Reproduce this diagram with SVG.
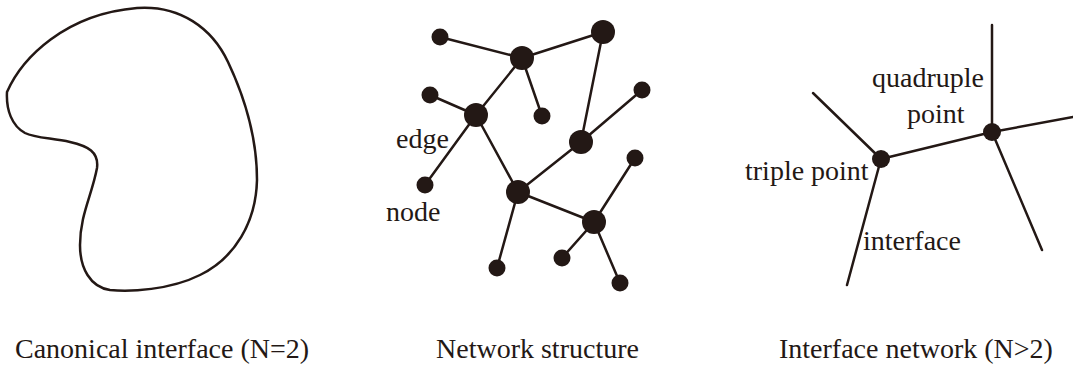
<svg xmlns="http://www.w3.org/2000/svg" width="1073" height="367" viewBox="0 0 1073 367">
<style>
.ln{stroke:#231815;stroke-width:2.5;fill:none;stroke-linecap:round}
.dot{fill:#231815}
text{font-family:"Liberation Serif","Times New Roman",serif;font-size:28px;fill:#231815}
</style>
<rect width="1073" height="367" fill="#fff"/>
<g id="blob">
<path class="ln" d="M7,92 C22,58 65,14 137,8 C180,5 212,28 228,62 C245,98 257,140 257,180 C256,222 235,258 200,275 C170,290 130,292 110,290 C90,287 80,268 80,245 C80,215 92,195 97,168 C99,152 88,146 70,142 C52,138 35,138 25,133 C12,126 6,110 7,92 Z"/>
</g>
<g id="network-edges">
<line class="ln" x1="440" y1="37" x2="522" y2="58"/>
<line class="ln" x1="522" y1="58" x2="603" y2="32"/>
<line class="ln" x1="522" y1="58" x2="476" y2="115"/>
<line class="ln" x1="522" y1="58" x2="542" y2="116"/>
<line class="ln" x1="430" y1="95" x2="476" y2="115"/>
<line class="ln" x1="476" y1="115" x2="425" y2="185"/>
<line class="ln" x1="476" y1="115" x2="518" y2="192"/>
<line class="ln" x1="603" y1="32" x2="581" y2="142"/>
<line class="ln" x1="581" y1="142" x2="642" y2="90"/>
<line class="ln" x1="581" y1="142" x2="518" y2="192"/>
<line class="ln" x1="518" y1="192" x2="594" y2="222"/>
<line class="ln" x1="518" y1="192" x2="497" y2="268"/>
<line class="ln" x1="594" y1="222" x2="635" y2="158"/>
<line class="ln" x1="594" y1="222" x2="562" y2="258"/>
<line class="ln" x1="594" y1="222" x2="620" y2="283"/>
</g>
<g id="network-nodes">
<circle class="dot" cx="440" cy="37" r="8.5"/>
<circle class="dot" cx="522" cy="58" r="12"/>
<circle class="dot" cx="603" cy="32" r="12"/>
<circle class="dot" cx="430" cy="95" r="8.5"/>
<circle class="dot" cx="476" cy="115" r="12"/>
<circle class="dot" cx="542" cy="116" r="8.5"/>
<circle class="dot" cx="642" cy="90" r="8.5"/>
<circle class="dot" cx="581" cy="142" r="12"/>
<circle class="dot" cx="425" cy="185" r="8.5"/>
<circle class="dot" cx="518" cy="192" r="12"/>
<circle class="dot" cx="635" cy="158" r="8.5"/>
<circle class="dot" cx="594" cy="222" r="12"/>
<circle class="dot" cx="562" cy="258" r="8.5"/>
<circle class="dot" cx="497" cy="268" r="8.5"/>
<circle class="dot" cx="620" cy="283" r="8.5"/>
</g>
<g id="network-labels">
<text x="396" y="148">edge</text>
<text x="386" y="221">node</text>
</g>
<g id="interface-lines">
<line class="ln" x1="881" y1="159" x2="813" y2="93"/>
<line class="ln" x1="881" y1="159" x2="847" y2="285"/>
<line class="ln" x1="881" y1="159" x2="992" y2="132"/>
<line class="ln" x1="992" y1="132" x2="992" y2="25"/>
<line class="ln" x1="992" y1="132" x2="1073" y2="117"/>
<line class="ln" x1="992" y1="132" x2="1042" y2="250"/>
</g>
<g id="triple-point"><circle class="dot" cx="881" cy="159" r="9"/></g>
<g id="quadruple-point"><circle class="dot" cx="992" cy="132" r="9"/></g>
<g id="interface-labels">
<text x="872" y="87">quadruple</text>
<text x="907" y="123">point</text>
<text x="745" y="180">triple point</text>
<text x="863" y="250">interface</text>
</g>
<g id="captions">
<text x="15" y="358">Canonical interface (N=2)</text>
<text x="436" y="358">Network structure</text>
<text x="779" y="358">Interface network (N&gt;2)</text>
</g>
</svg>
